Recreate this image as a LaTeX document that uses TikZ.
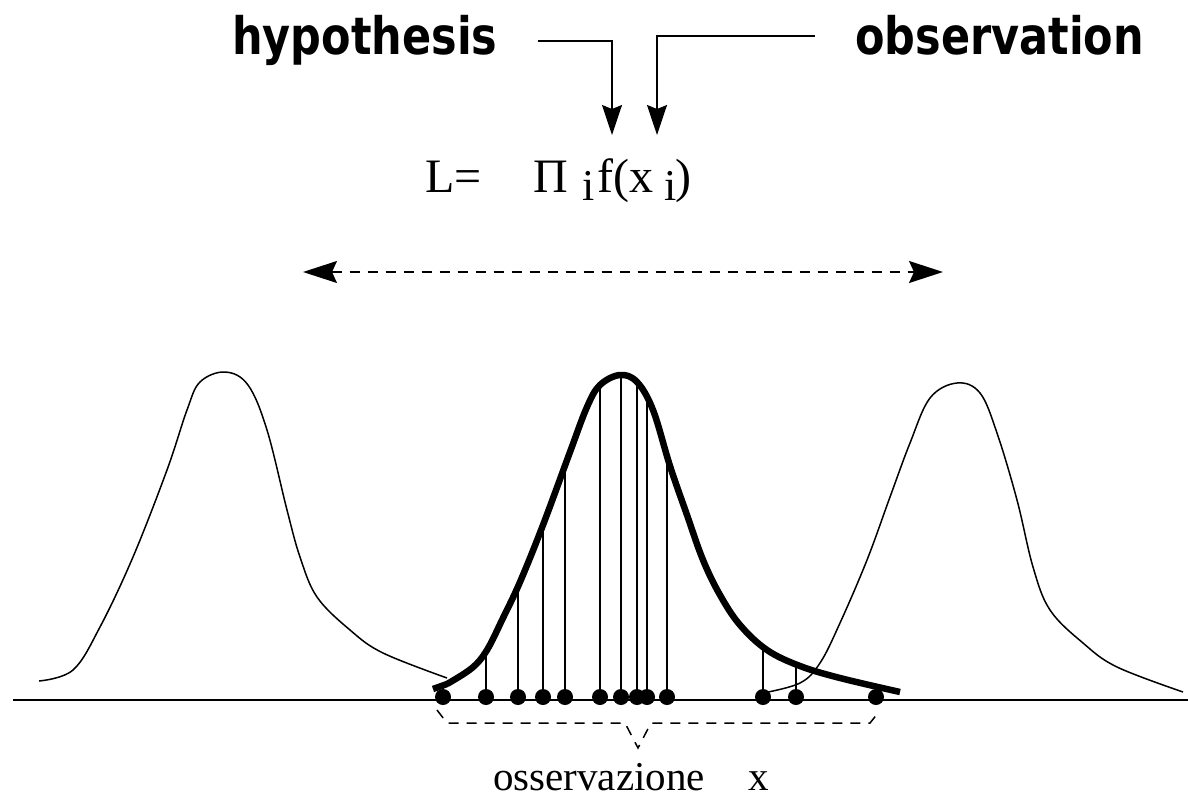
\documentclass[tikz,border=0pt]{standalone}
\usepackage{fontspec}
\setmainfont{Liberation Serif}
\newfontfamily\sketchfont{DejaVu Sans}
\usetikzlibrary{arrows.meta,positioning,intersections}

\begin{document}
\begin{tikzpicture}[x=1pt,y=-1pt,>={Stealth[length=30pt,width=20pt,inset=4pt]},
  every node/.style={inner sep=0pt},
  dot/.style={circle,fill,minimum size=16pt},
  boldlabel/.style={font=\sketchfont\bfseries\fontsize{43}{43}\selectfont,anchor=base west},
  thincurve/.style={line width=1.5pt,line join=round},
  fitcurve/.style={line width=6.5pt,line join=round}]
                \useasboundingbox (0,0) rectangle (1188,797);

                \node[boldlabel] (hyp) at (232,55) {\scalebox{1}[1.2]{hypothesis}};
                \node[boldlabel] (obs) at (855,55) {\scalebox{1}[1.2]{observation}};
                \node[anchor=base west,font=\fontsize{48}{48}\selectfont] (lik) at (425,192)
                    {L=\hspace{52pt}Π\hspace{14pt}{\fontsize{44}{44}\selectfont\raisebox{-8pt}{i}}\hspace{3pt}f(x\hspace{11pt}{\fontsize{44}{44}\selectfont\raisebox{-8pt}{i}}\hspace{-1pt})};

                \coordinate (ht) at (612,135);
                \coordinate (ot) at (657,135);
                \draw[line width=1.6pt,->] ([xshift=40pt]hyp.east) -| (ht);
                \draw[line width=1.6pt,->] ([xshift=-40pt]obs.west) -| (ot);

                \coordinate (la) at (303,272);
                \coordinate (ra) at (943,272);
                \draw[line width=1.6pt,dash pattern=on 10pt off 8pt,
                      {Stealth[length=34pt,width=22pt,inset=5pt]}-{Stealth[length=34pt,width=22pt,inset=5pt]}] (la) -- (ra);

                \coordinate (axl) at (13,700);
                \coordinate (axr) at (1188,700);
                \draw[line width=1.8pt] (axl) -- (axr);

                \draw[thincurve] plot[smooth,tension=0.6] coordinates {(39,681) (73,670) (100,627) (133,557) (167,470) (187,410)
                    (200,382) (225,372) (248,385) (267,430) (287,510) (300,557) (317,597) (350,630) (383,653) (447,678)};
                \draw[thincurve] plot[smooth,tension=0.6] coordinates {(763,693) (800,683) (820,663) (840,623) (867,560) (890,497)
                    (910,443) (930,398) (957,383) (980,393) (997,433) (1017,500) (1033,567) (1050,610) (1083,643) (1117,667) (1183,692)};

                \draw[fitcurve,name path=fit] (433,689) -- (447,684) plot[smooth,tension=0.6] coordinates {(447,684) (472,668) (487,650) (503,618)
                    (520,582) (543,525) (570,452) (587,407) (600,385) (620,375) (637,382) (653,410) (670,466) (687,515)
                    (703,560) (720,595) (740,625) (767,650) (800,666) (840,678) (900,692)};

                \foreach \px [count=\k] in {443,486,518,543,565,600,621,637,647,667,763,796,876} {
                    \node[dot] (d\k) at (\px,697) {};
                    \path[name path=v\k] (\px,697) -- (\px,300);
                    \draw[line width=1.8pt,name intersections={of=fit and v\k,by=s\k}] (d\k.center) -- (s\k);
                }

                \coordinate (bt) at (638,748);
                \draw[line width=1.5pt,dash pattern=on 10pt off 8pt] ([xshift=-6pt,yshift=-13pt]d1.center) -- ++(10,13)
                    -- (625,723) -- (bt) -- (651,723) -- (870,723) -- ([xshift=2pt,yshift=-16pt]d13.center);

                \node[anchor=base west,font=\fontsize{41}{41}\selectfont] (osx) at (493,790) {osservazione\hspace{44pt}x};
            \end{tikzpicture}
\end{document}
